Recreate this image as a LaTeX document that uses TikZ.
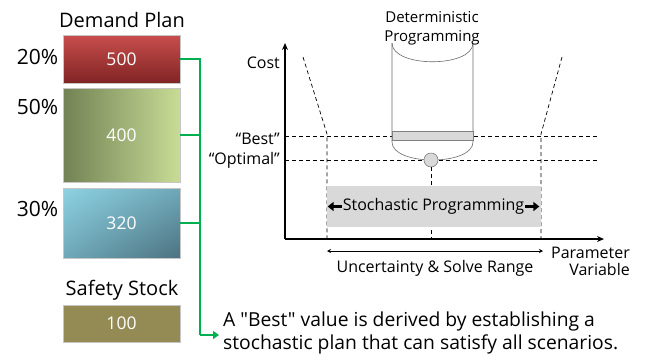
\documentclass[tikz,border=0pt]{standalone}
\usepackage{fontspec}
\setmainfont{Open Sans}[Ligatures=TeXOff]
\usetikzlibrary{arrows.meta,shadings}

\definecolor{redtop}{RGB}{200,78,76}
\definecolor{redbot}{RGB}{128,36,36}
\definecolor{grnleft}{RGB}{114,130,84}
\definecolor{grnright}{RGB}{200,220,150}
\definecolor{blutop}{RGB}{142,210,226}
\definecolor{blumid}{RGB}{110,168,184}
\definecolor{blubot}{RGB}{76,114,128}
\definecolor{olive}{RGB}{148,138,84}
\definecolor{linkgreen}{RGB}{0,176,80}
\definecolor{band}{RGB}{217,217,217}

\tikzset{
  plan/.style={draw=gray!45, line width=0.8pt, minimum width=117pt, inner sep=0pt,
    text=white, font=\fontsize{17.5}{20}\selectfont},
  head/.style={font=\fontsize{20}{24}\selectfont},
  pct/.style={font=\fontsize{21}{24}\selectfont},
  lbl/.style={font=\fontsize{16}{19}\selectfont, inner sep=0pt},
  link/.style={draw=linkgreen, line width=2pt},
  guide/.style={dashed, line width=0.7pt, dash pattern=on 4pt off 3pt},
  axis/.style={line width=2.2pt, -{Stealth[length=7pt,width=6pt]}},
  fatarrow/.style={line width=2.4pt, -{Triangle[length=6pt,width=9pt]}},
}

\begin{document}
\begin{tikzpicture}[x=1pt, y=-1pt]
\useasboundingbox (0,0) rectangle (648,360);

% ---- demand plan scenarios ----
\node[head] (dptitle) at (122,20) {Demand Plan};
\node[plan, minimum height=48pt, top color=redtop, bottom color=redbot] (b500) at (121.5,59) {500};
\node[plan, minimum height=94pt, left color=grnleft, right color=grnright] (b400) at (121.5,135) {400};
\node[plan, minimum height=70pt, upper left=blutop, upper right=blumid, lower left=blumid, lower right=blubot] (b320) at (121.5,223) {320};
\node[pct] (p20) at (37.5,57) {20\%};
\node[pct] (p50) at (37.5,107) {50\%};
\node[pct] (p30) at (37.5,209) {30\%};

\node[head] (sstitle) at (122,290) {Safety Stock};
\node[plan, minimum height=37pt, fill=olive] (b100) at (121.5,323.5) {100};

% ---- green collector ----
\coordinate (trunkTop) at (200,59);
\coordinate (trunkBot) at (200,335);
\coordinate (tip) at (219,335);
\coordinate (j400) at (200,135);
\coordinate (j320) at (200,223);
\draw[link] (b500.east) -- (trunkTop) -- (trunkBot);
\draw[link] (b400.east) -- (j400);
\draw[link] (b320.east) -- (j320);
\draw[link, -{Triangle[length=6pt,width=8pt]}] (trunkBot) -- (tip);

\node[anchor=north west, align=left, inner sep=0pt, font=\fontsize{19.3}{22.5}\selectfont] (note) at (223,312)
  {A "Best" value is derived by establishing a\\stochastic plan that can satisfy all scenarios.};

% ---- chart ----
\coordinate (origin) at (285,239);
\coordinate (ytop) at (285,43);
\coordinate (xend) at (604,239);

% guide lines
\coordinate (bestL) at (285,136);
\coordinate (bestR) at (598,136);
\coordinate (optL) at (285,160);
\coordinate (optR) at (598,160);
\draw[guide] (bestL) -- (bestR);
\draw[guide] (optL) -- (optR);

\coordinate (lTop) at (303,57);
\coordinate (lKnee) at (327,134);
\coordinate (lFoot) at (327,239);
\coordinate (rTop) at (562,57);
\coordinate (rKnee) at (541,134);
\coordinate (rFoot) at (541,239);
\coordinate (mFoot) at (431,239);
\draw[guide] (lTop) -- (lKnee) -- (lFoot);
\draw[guide] (rTop) -- (rKnee) -- (rFoot);

% deterministic cylinder
\fill[white] (392,43) -- (392,142) .. controls (392,166) and (473,166) .. (473,142) -- (473,43) -- cycle;
\draw[gray!85!black, line width=0.6pt] (392,43) .. controls (392,68) and (473,68) .. (473,43);
\draw[gray!85!black, line width=0.6pt] (392,43) -- (392,142) .. controls (392,166) and (473,166) .. (473,142) -- (473,43);
\draw[gray, fill=band, line width=0.6pt] (392,131) rectangle (473,140);
\node[circle, draw=gray, fill=band, minimum size=14pt, inner sep=0pt, line width=0.6pt] (opt) at (431,160) {};
\draw[guide] (opt.south) -- (mFoot);

\node[align=center, inner sep=0pt, font=\fontsize{15}{19}\selectfont] (detlbl) at (432,28) {Deterministic\\Programming};

% stochastic range
\node[fill=band, minimum width=214pt, minimum height=41pt, inner sep=0pt] (stoch) at (434,206.5) {};
\node[inner sep=0pt, font=\fontsize{16}{19}\selectfont] (stochtxt) at (433.5,206.5) {Stochastic Programming};
\draw[fatarrow] ([xshift=-1pt]stochtxt.west) -- ++(-14,0);
\draw[fatarrow] ([xshift=1pt]stochtxt.east) -- ++(14,0);

% axes
\draw[axis] (origin) -- (ytop);
\draw[axis] (origin) -- (xend);

\node[lbl, anchor=east] (costlbl) at (280,63) {Cost};
\node[lbl, anchor=east] (bestlbl) at (280,139) {“Best”};
\node[lbl, anchor=east] (optlbl) at (280,160) {“Optimal”};
\node[lbl, align=right, anchor=east, font=\fontsize{16}{17}\selectfont] (paramlbl) at (630,261) {Parameter\\Variable};

\coordinate (rangeL) at (327,251);
\coordinate (rangeR) at (543,251);
\draw[line width=0.8pt, {Stealth[length=4pt,width=4pt]}-{Stealth[length=4pt,width=4pt]}] (rangeL) -- (rangeR);
\node[lbl] (rangelbl) at (435,268) {Uncertainty \& Solve Range};
\end{tikzpicture}
\end{document}
